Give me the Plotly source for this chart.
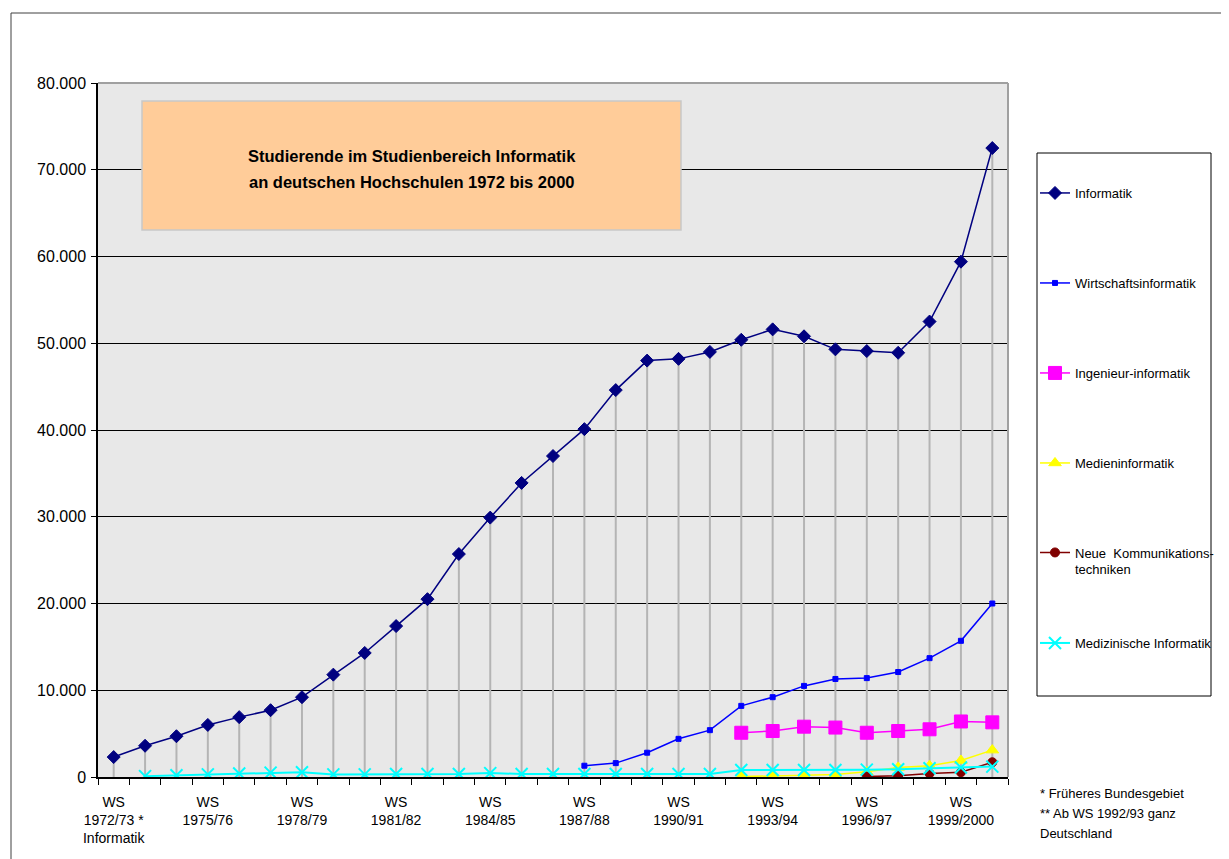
import plotly.graph_objects as go

# ---------------- data ----------------
semesters = ["1972/73", "1973/74", "1974/75", "1975/76", "1976/77", "1977/78", "1978/79",
             "1979/80", "1980/81", "1981/82", "1982/83", "1983/84", "1984/85", "1985/86",
             "1986/87", "1987/88", "1988/89", "1989/90", "1990/91", "1991/92", "1992/93",
             "1993/94", "1994/95", "1995/96", "1996/97", "1997/98", "1998/99", "1999/2000",
             "2000/01"]

informatik = [2300, 3600, 4700, 6000, 6900, 7700, 9200, 11800, 14300, 17400, 20500, 25700,
              29900, 33900, 37000, 40100, 44600, 48000, 48200, 49000, 50400, 51600, 50800,
              49300, 49100, 48900, 52500, 59400, 72500]

wirtschaftsinformatik = [None] * 15 + [1300, 1600, 2800, 4400, 5400, 8200, 9200, 10500, 11300,
                                       11400, 12100, 13700, 15700, 20000]

ingenieurinformatik = [None] * 20 + [5100, 5300, 5800, 5700, 5100, 5300, 5500, 6400, 6300]

medieninformatik = [None] * 20 + [50, 100, 200, 300, 600, 1100, 1300, 1900, 3100]

neue_kommunikation = [None] * 24 + [50, 150, 400, 550, 1700]

medizinische = [None] + [100, 200, 300, 400, 500, 550, 300, 300, 350, 350, 350, 450, 350, 350,
                         350, 350, 350, 350, 350, 800, 800, 800, 800, 850, 900, 1000, 1100, 1200]

tick_labels = {
    "1972/73": "WS<br>1972/73 *<br>Informatik",
    "1975/76": "WS<br>1975/76",
    "1978/79": "WS<br>1978/79",
    "1981/82": "WS<br>1981/82",
    "1984/85": "WS<br>1984/85",
    "1987/88": "WS<br>1987/88",
    "1990/91": "WS<br>1990/91",
    "1993/94": "WS<br>1993/94",
    "1996/97": "WS<br>1996/97",
    "1999/2000": "WS<br>1999/2000",
}

title_lines = ["Studierende im Studienbereich Informatik",
               "an deutschen Hochschulen 1972 bis 2000"]
note_lines = ["* Früheres Bundesgebiet", "** Ab WS 1992/93 ganz", "Deutschland"]

FONT = "Arial, Liberation Sans, sans-serif"

# ---------------- layout geometry (page pixels) ----------------
OFF = 8  # default body margin of the html page
PAGE_W, PAGE_H = 1229, 859
W, H = PAGE_W - OFF, PAGE_H - OFF
PL, PR, PT, PB = 98, 1008, 83, 777


def px(x):
    return (x - PL) / (PR - PL)


def py(y):
    return (PB - y) / (PB - PT)


fig = go.Figure()

series = [
    ("Informatik", informatik, dict(symbol="diamond", size=10, color="#000080",
                                    line=dict(color="#000080", width=1)), "#000080", 1.5, "legend", py(193)),
    ("Wirtschaftsinformatik", wirtschaftsinformatik, dict(symbol="square", size=5, color="#0000FF",
                                                          line=dict(color="#0000FF", width=1)), "#0000FF", 1.5, "legend2", py(283)),
    ("Ingenieur-informatik", ingenieurinformatik, dict(symbol="square", size=13, color="#FF00FF",
                                                       line=dict(color="#FF00FF", width=1)), "#FF00FF", 1.5, "legend3", py(373)),
    ("Medieninformatik", medieninformatik, dict(symbol="triangle-up", size=11, color="#FFFF00",
                                                line=dict(color="#FFFF00", width=1)), "#FFFF00", 1.5, "legend4", py(463)),
    ("Neue  Kommunikations-<br>techniken", neue_kommunikation, dict(symbol="circle", size=9, color="#800000",
                                                                     line=dict(color="#800000", width=1)), "#800000", 1.5, "legend5", py(561)),
    ("Medizinische Informatik", medizinische, dict(symbol="x-thin-open", size=12, color="#00FFFF",
                                                   line=dict(color="#00FFFF", width=2)), "#00FFFF", 2, "legend6", py(643)),
]

for i, (name, vals, marker, color, lw, leg, ly) in enumerate(series):
    kw = {}
    if i == 0:
        kw["error_y"] = dict(type="data", symmetric=False, array=[0] * len(vals),
                             arrayminus=vals, width=0, color="#B4B4B4", thickness=2)
    fig.add_trace(go.Scatter(
        x=semesters, y=vals, name=name, mode="lines+markers",
        line=dict(color=color, width=lw), marker=marker, legend=leg,
        connectgaps=False, **kw))

legend_common = dict(x=px(1035), xanchor="left", yanchor="middle", bgcolor="rgba(0,0,0,0)",
                     borderwidth=0, font=dict(family=FONT, size=13, color="black"),
                     valign="top", itemwidth=30)

layout_legends = {}
for i, (name, vals, marker, color, lw, leg, ly) in enumerate(series):
    layout_legends[leg] = dict(legend_common, y=ly)

fig.update_layout(
    width=W, height=H,
    margin=dict(l=PL - OFF, r=PAGE_W - PR, t=PT - OFF, b=PAGE_H - PB, pad=0, autoexpand=False),
    paper_bgcolor="white",
    plot_bgcolor="#E8E8E8",
    separators=",.",
    showlegend=True,
    font=dict(family=FONT, size=13, color="black"),
    xaxis=dict(
        type="category", categoryorder="array", categoryarray=semesters,
        range=[-0.5, len(semesters) - 0.5],
        tickmode="array", tickvals=semesters,
        ticktext=[tick_labels.get(s, "") for s in semesters],
        tickson="boundaries", ticks="outside", ticklen=6, tickcolor="black", tickwidth=1,
        tickangle=0, automargin=False,
        showgrid=False, showline=True, linecolor="black", linewidth=1.5,
        tickfont=dict(family=FONT, size=14, color="black"), ticklabelstandoff=11,
        fixedrange=True,
    ),
    yaxis=dict(
        range=[0, 80000], dtick=10000, tick0=0, tickformat=",d",
        ticks="outside", ticklen=5, tickcolor="black", automargin=False,
        showline=True, linecolor="black", linewidth=1.5,
        showgrid=True, gridcolor="black", gridwidth=1, zeroline=False,
        tickfont=dict(family=FONT, size=16, color="black"), ticklabelstandoff=2,
        fixedrange=True,
    ),
    **layout_legends,
)

shapes = [
    # outer chart frame
    dict(type="rect", xref="paper", yref="paper", x0=px(11), x1=px(1245), y0=py(875), y1=py(13),
         line=dict(color="#404040", width=1), fillcolor="rgba(0,0,0,0)", layer="below"),
    # plot area top and right border
    dict(type="line", xref="paper", yref="paper", x0=0, x1=1, y0=1, y1=1,
         line=dict(color="#A0A0A0", width=2), layer="above"),
    dict(type="line", xref="paper", yref="paper", x0=1, x1=1, y0=0, y1=1,
         line=dict(color="#A0A0A0", width=2), layer="above"),
    # title box
    dict(type="rect", xref="paper", yref="paper", x0=px(142), x1=px(681), y0=py(230), y1=py(101),
         line=dict(color="#C8C8C8", width=1.5), fillcolor="#FFCC99", layer="above"),
    # legend frame
    dict(type="rect", xref="paper", yref="paper", x0=px(1037), x1=px(1211), y0=py(696), y1=py(153),
         line=dict(color="black", width=1), fillcolor="rgba(0,0,0,0)", layer="above"),
]
fig.update_layout(shapes=shapes)

for line_text, yy in zip(title_lines, [156, 182]):
    fig.add_annotation(xref="paper", yref="paper", x=px(412), y=py(yy), xanchor="center", yanchor="middle",
                       text="<b>" + line_text + "</b>", showarrow=False, align="center",
                       font=dict(family=FONT, size=16.5, color="black"))
for line_text, yy in zip(note_lines, [793, 813, 833]):
    fig.add_annotation(xref="paper", yref="paper", x=px(1038), y=py(yy), xanchor="left", yanchor="middle",
                       text=line_text, showarrow=False, align="left",
                       font=dict(family=FONT, size=13, color="black"))

fig.write_html("out.html")
